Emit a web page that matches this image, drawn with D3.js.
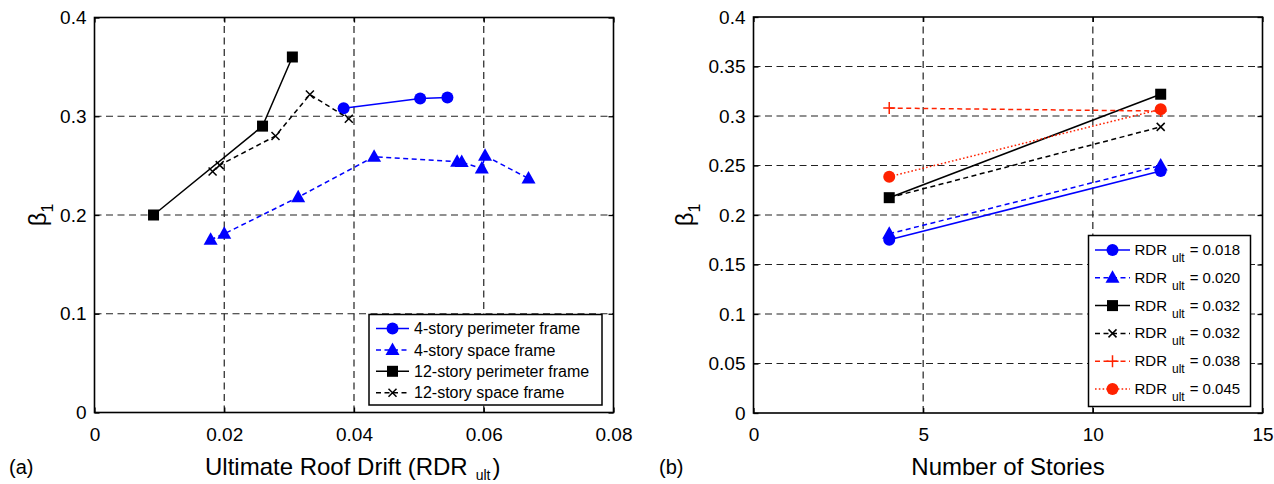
<!DOCTYPE html>
<html>
<head>
<meta charset="utf-8">
<script src="https://cdn.jsdelivr.net/npm/d3@7"></script>
<style>
  html, body { margin: 0; padding: 0; background: #fff; }
  svg { display: block; font-family: "Liberation Sans", Arial, Helvetica, sans-serif; }
</style>
</head>
<body>
<svg id="fig" width="1274" height="484"></svg>
<script>
// ---------- Panel (a): beta_1 against ultimate roof drift ----------
const perim4Drift  = [0.0384, 0.0502, 0.0544];
const perim4Beta   = [0.308, 0.318, 0.319];
const space4Drift  = [0.0179, 0.0200, 0.0314, 0.0431, 0.0559, 0.0566, 0.0597, 0.0602, 0.0669];
const space4Beta   = [0.175, 0.181, 0.218, 0.259, 0.254, 0.2536, 0.247, 0.260, 0.237];
const perim12Drift = [0.0091, 0.0259, 0.0305];
const perim12Beta  = [0.200, 0.290, 0.360];
const space12Drift = [0.0182, 0.0193, 0.0279, 0.0332, 0.0392];
const space12Beta  = [0.244, 0.2505, 0.280, 0.322, 0.2975];
const seriesNamesA = ["4-story perimeter frame", "4-story space frame",
                      "12-story perimeter frame", "12-story space frame"];
const xTicksA = [0, 0.02, 0.04, 0.06, 0.08];
const xTickLabelsA = ["0", "0.02", "0.04", "0.06", "0.08"];
const yTicksA = [0, 0.1, 0.2, 0.3, 0.4];
const yTickLabelsA = ["0", "0.1", "0.2", "0.3", "0.4"];

// ---------- Panel (b): beta_1 against number of stories ----------
const stories   = [4, 12];
const beta018   = [0.175, 0.2445];
const beta020   = [0.181, 0.250];
const beta032p  = [0.2175, 0.322];
const beta032s  = [0.2175, 0.289];
const beta038   = [0.308, 0.305];
const beta045   = [0.2387, 0.3068];
const rdrLabelsB = ["0.018", "0.020", "0.032", "0.032", "0.038", "0.045"];
const xTicksB = [0, 5, 10, 15];
const xTickLabelsB = ["0", "5", "10", "15"];
const yTicksB = [0, 0.05, 0.1, 0.15, 0.2, 0.25, 0.3, 0.35, 0.4];
const yTickLabelsB = ["0", "0.05", "0.1", "0.15", "0.2", "0.25", "0.3", "0.35", "0.4"];

const BLUE = "#0000ff", BLACK = "#000000", RED = "#ff2200";
const DASH = "5,3.5", DOT = "1.6,2.2";

const svg = d3.select("#fig");

// marker painter
function marker(g, type, color, x, y) {
  if (type === "circle") {
    g.append("circle").attr("cx", x).attr("cy", y).attr("r", 6).attr("fill", color);
  } else if (type === "triangle") {
    g.append("path").attr("d", `M${x},${y - 7.5}L${x + 7},${y + 5}L${x - 7},${y + 5}Z`).attr("fill", color);
  } else if (type === "square") {
    g.append("rect").attr("x", x - 5.5).attr("y", y - 5.5).attr("width", 11).attr("height", 11).attr("fill", color);
  } else if (type === "x") {
    g.append("path").attr("d", `M${x - 4},${y - 4}L${x + 4},${y + 4}M${x - 4},${y + 4}L${x + 4},${y - 4}`)
      .attr("stroke", color).attr("stroke-width", 1.5);
  } else if (type === "plus") {
    g.append("path").attr("d", `M${x - 6},${y}L${x + 6},${y}M${x},${y - 6}L${x},${y + 6}`)
      .attr("stroke", color).attr("stroke-width", 1.5);
  }
}

function drawPanel(cfg) {
  const { x, y, xTicks, xTickLabels, yTicks, yTickLabels, series } = cfg;
  const [x0, x1] = x.range();
  const [y0, y1] = y.range(); // y0 bottom, y1 top
  const g = svg.append("g");

  // dashed grid
  const grid = g.append("g").attr("stroke", "#222").attr("stroke-width", 1.2)
    .attr("stroke-dasharray", "7,4.5").attr("fill", "none");
  xTicks.slice(1, -1).forEach(t => {
    grid.append("line").attr("x1", x(t)).attr("x2", x(t)).attr("y1", y0).attr("y2", y1);
  });
  yTicks.slice(1, -1).forEach(t => {
    grid.append("line").attr("x1", x0).attr("x2", x1).attr("y1", y(t)).attr("y2", y(t));
  });

  // series
  const line = d3.line().x(d => x(d[0])).y(d => y(d[1]));
  series.forEach(s => {
    const pts = d3.zip(s.xs, s.ys);
    g.append("path").attr("d", line(pts)).attr("fill", "none")
      .attr("stroke", s.color).attr("stroke-width", 1.5)
      .attr("stroke-dasharray", s.dash || null);
    pts.forEach(p => marker(g, s.marker, s.color, x(p[0]), y(p[1])));
  });

  // axes with inward ticks on all sides
  const ax = g.append("g");
  const bottom = d3.axisBottom(x).tickValues(xTicks).tickSizeInner(-5).tickSizeOuter(0)
    .tickFormat((d, i) => xTickLabels[i]).tickPadding(15);
  const left = d3.axisLeft(y).tickValues(yTicks).tickSizeInner(-5).tickSizeOuter(0)
    .tickFormat((d, i) => yTickLabels[i]).tickPadding(8);
  const top = d3.axisTop(x).tickValues(xTicks).tickSizeInner(-5).tickSizeOuter(0).tickFormat("");
  const right = d3.axisRight(y).tickValues(yTicks).tickSizeInner(-5).tickSizeOuter(0).tickFormat("");
  ax.append("g").attr("transform", `translate(0,${y0})`).call(bottom);
  ax.append("g").attr("transform", `translate(${x0},0)`).call(left);
  ax.append("g").attr("transform", `translate(0,${y1})`).call(top);
  ax.append("g").attr("transform", `translate(${x1},0)`).call(right);
  ax.selectAll(".domain").remove();
  ax.selectAll(".tick line").attr("stroke", "#000").attr("stroke-width", 1.3);
  ax.selectAll(".tick text").attr("font-size", 19).attr("fill", "#000")
    .attr("font-family", "'Liberation Sans', Arial, sans-serif");

  return g;
}

function frame(g, x, y) {
  const [x0, x1] = x.range();
  const [y0, y1] = y.range();
  g.append("rect").attr("x", x0).attr("y", y1).attr("width", x1 - x0).attr("height", y0 - y1)
    .attr("fill", "none").attr("stroke", "#000").attr("stroke-width", 1.6);
}

// ---------- panel (a) ----------
const xA = d3.scaleLinear().domain([0, 0.08]).range([94.5, 613.5]);
const yA = d3.scaleLinear().domain([0, 0.4]).range([412.5, 17.5]);
const seriesA = [
  { xs: perim4Drift,  ys: perim4Beta,  color: BLUE,  marker: "circle" },
  { xs: space4Drift,  ys: space4Beta,  color: BLUE,  marker: "triangle", dash: DASH },
  { xs: perim12Drift, ys: perim12Beta, color: BLACK, marker: "square" },
  { xs: space12Drift, ys: space12Beta, color: BLACK, marker: "x", dash: DASH }
];
const gA = drawPanel({ x: xA, y: yA, xTicks: xTicksA, xTickLabels: xTickLabelsA,
  yTicks: yTicksA, yTickLabels: yTickLabelsA, series: seriesA });

// legend (a)
{
  const lg = gA.append("g");
  lg.append("rect").attr("x", 369).attr("y", 314.5).attr("width", 233).attr("height", 90.5)
    .attr("fill", "#fff").attr("stroke", "#000").attr("stroke-width", 1.5);
  seriesA.forEach((s, i) => {
    const cy = 328.5 + i * 21.4;
    lg.append("line").attr("x1", 376).attr("x2", 409).attr("y1", cy).attr("y2", cy)
      .attr("stroke", s.color).attr("stroke-width", 1.5).attr("stroke-dasharray", s.dash || null);
    marker(lg, s.marker, s.color, 392.5, cy);
    lg.append("text").attr("x", 414).attr("y", cy + 5.6).attr("font-size", 16)
      .text(seriesNamesA[i]);
  });
}
frame(gA, xA, yA);

// ---------- panel (b) ----------
const xB = d3.scaleLinear().domain([0, 15]).range([753.5, 1262.5]);
const yB = d3.scaleLinear().domain([0, 0.4]).range([413, 17]);
const seriesB = [
  { xs: stories, ys: beta018,  color: BLUE,  marker: "circle" },
  { xs: stories, ys: beta020,  color: BLUE,  marker: "triangle", dash: DASH },
  { xs: stories, ys: beta032p, color: BLACK, marker: "square" },
  { xs: stories, ys: beta032s, color: BLACK, marker: "x", dash: DASH },
  { xs: stories, ys: beta038,  color: RED,   marker: "plus", dash: DASH },
  { xs: stories, ys: beta045,  color: RED,   marker: "circle", dash: DOT }
];
const gB = drawPanel({ x: xB, y: yB, xTicks: xTicksB, xTickLabels: xTickLabelsB,
  yTicks: yTicksB, yTickLabels: yTickLabelsB, series: seriesB });

// legend (b)
{
  const lg = gB.append("g");
  lg.append("rect").attr("x", 1088.5).attr("y", 235.5).attr("width", 162).attr("height", 171)
    .attr("fill", "#fff").attr("stroke", "#000").attr("stroke-width", 1.5);
  seriesB.forEach((s, i) => {
    const cy = 250 + i * 27.8;
    lg.append("line").attr("x1", 1095).attr("x2", 1130).attr("y1", cy).attr("y2", cy)
      .attr("stroke", s.color).attr("stroke-width", 1.5).attr("stroke-dasharray", s.dash || null);
    marker(lg, s.marker, s.color, 1112.5, cy);
    const t = lg.append("text").attr("x", 1134.5).attr("y", cy + 5).attr("font-size", 15);
    t.append("tspan").text("RDR");
    t.append("tspan").attr("dx", 5).attr("dy", 7).attr("font-size", 12).text("ult");
    t.append("tspan").attr("dx", 5).attr("dy", -7).text("= " + rdrLabelsB[i]);
  });
}
frame(gB, xB, yB);

// ---------- axis titles and panel tags ----------
function betaLabel(cx, cy) {
  const t = svg.append("text").attr("transform", `translate(${cx},${cy}) rotate(-90)`)
    .attr("text-anchor", "middle").attr("font-size", 24);
  t.append("tspan").text("β");
  t.append("tspan").attr("dy", 7).attr("font-size", 16).text("1");
}
betaLabel(46, 215);
betaLabel(693, 215);

{
  const t = svg.append("text").attr("x", 205).attr("y", 475).attr("font-size", 24);
  t.append("tspan").text("Ultimate Roof Drift (RDR");
  t.append("tspan").attr("dx", 8).attr("dy", 5).attr("font-size", 14).text("ult");
  t.append("tspan").attr("dx", 2).attr("dy", -5).text(")");
}
svg.append("text").attr("x", 1008).attr("y", 475).attr("text-anchor", "middle")
  .attr("font-size", 24).text("Number of Stories");
svg.append("text").attr("x", 9).attr("y", 474).attr("font-size", 20).text("(a)");
svg.append("text").attr("x", 659).attr("y", 474).attr("font-size", 20).text("(b)");
</script>
</body>
</html>
